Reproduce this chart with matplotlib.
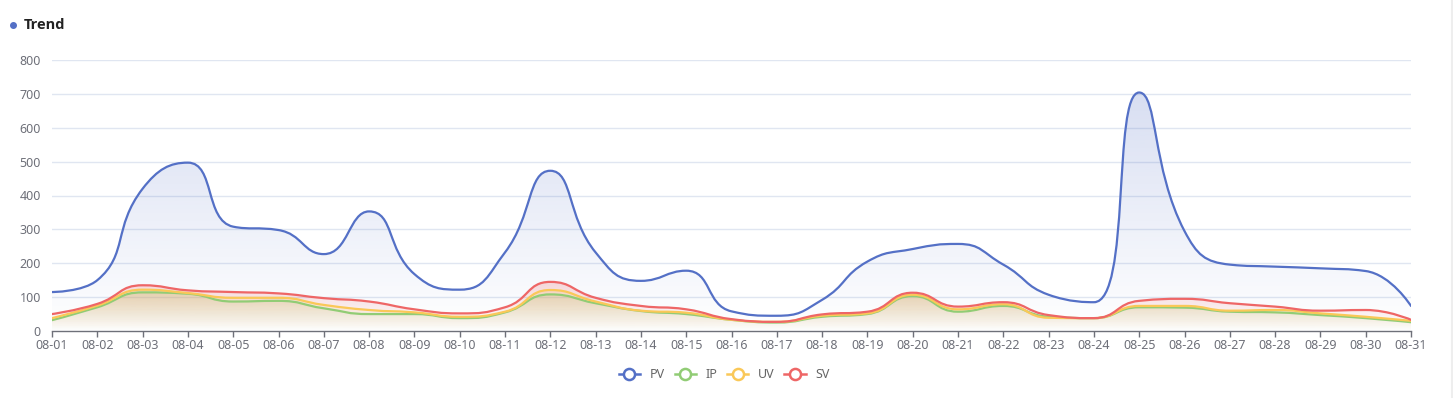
import numpy as np
import matplotlib
matplotlib.use("Agg")
import matplotlib.pyplot as plt
from matplotlib.path import Path
from matplotlib.patches import PathPatch
from matplotlib.lines import Line2D
from matplotlib.colors import to_rgb

plt.rcParams['font.family'] = ['Noto Sans', 'DejaVu Sans']

dates = [f"08-{d:02d}" for d in range(1, 32)]
pv = [115, 150, 420, 497, 308, 298, 227, 353, 168, 122, 232, 473, 232, 148, 178,
      58, 45, 92, 205, 242, 257, 196, 107, 85, 704, 295, 196, 190, 185, 177, 74]
ip = [32, 70, 114, 110, 87, 89, 67, 50, 50, 38, 55, 108, 82, 59, 50,
      33, 25, 42, 50, 103, 57, 74, 42, 38, 70, 69, 57, 55, 47, 38, 26]
uv = [38, 75, 122, 112, 98, 98, 77, 62, 55, 42, 57, 121, 87, 60, 54,
      33, 27, 45, 52, 107, 64, 79, 39, 38, 74, 74, 60, 62, 52, 42, 30]
sv = [50, 80, 135, 120, 115, 111, 97, 87, 64, 52, 70, 145, 98, 74, 64,
      35, 27, 49, 57, 113, 72, 85, 47, 38, 89, 95, 82, 72, 60, 62, 33]

series = [("PV", pv, "#5470c6"), ("IP", ip, "#91cc75"),
          ("UV", uv, "#fac858"), ("SV", sv, "#ee6666")]

W, H = 1453, 398
fig = plt.figure(figsize=(W / 100, H / 100), dpi=100)
x0, x1, yb, yt = 52, 1411, 331, 60
ax = fig.add_axes([x0 / W, 1 - yb / H, (x1 - x0) / W, (yb - yt) / H])
n = len(dates)
ax.set_xlim(0, n - 1)
ax.set_ylim(0, 800)
sx = (x1 - x0) / (n - 1)
sy = (yb - yt) / 800.0


def echarts_smooth(xs, ys, smooth=0.5):
    # ECharts-style bezier smoothing computed in pixel space
    P = np.column_stack([np.asarray(xs, float) * sx, np.asarray(ys, float) * sy])
    verts = [tuple(P[0])]
    codes = [Path.MOVETO]
    cp0 = P[0].copy()
    m = len(P)
    for i in range(1, m):
        p = P[i]; prev = P[i - 1]
        if i == m - 1:
            cp1 = p.copy(); ncp0 = p.copy()
        else:
            nxt = P[i + 1]
            v = nxt - prev
            lp = np.hypot(*(p - prev)); ln = np.hypot(*(nxt - p))
            r = ln / (ln + lp)
            ncp0 = p + v * smooth * r
            ncp0 = np.minimum(ncp0, np.maximum(nxt, p))
            ncp0 = np.maximum(ncp0, np.minimum(nxt, p))
            v = ncp0 - p
            cp1 = p - v * lp / ln
            cp1 = np.minimum(cp1, np.maximum(prev, p))
            cp1 = np.maximum(cp1, np.minimum(prev, p))
            v = p - cp1
            ncp0 = p + v * ln / lp
        verts += [tuple(cp0), tuple(cp1), tuple(p)]
        codes += [Path.CURVE4] * 3
        cp0 = ncp0
    verts = [(a / sx, b / sy) for a, b in verts]
    return verts, codes


# grid
for v in range(100, 900, 100):
    ax.axhline(v, color="#e0e6f1", lw=1, zorder=0)

xs = np.arange(n)
for zi, (name, vals, col) in enumerate(series):
    verts, codes = echarts_smooth(xs, vals)
    # area
    av = verts + [(n - 1, 0), (0, 0), verts[0]]
    ac = codes + [Path.LINETO, Path.LINETO, Path.CLOSEPOLY]
    patch = PathPatch(Path(av, ac), facecolor="none", edgecolor="none")
    ax.add_patch(patch)
    rgb = to_rgb(col)
    grad = np.zeros((256, 1, 4))
    grad[:, 0, :3] = rgb
    grad[:, 0, 3] = np.linspace(0.23, 0.0, 256)
    im = ax.imshow(grad, extent=[0, n - 1, 0, max(vals)], origin="upper",
                   aspect="auto", zorder=1 + zi * 0.1, interpolation="bilinear")
    im.set_clip_path(patch)
    lp = PathPatch(Path(verts, codes), facecolor="none", edgecolor=col,
                   lw=1.6, zorder=3 + zi * 0.1, capstyle="round", joinstyle="round")
    ax.add_patch(lp)

ax.set_xlim(0, n - 1)
ax.set_ylim(0, 800)
ax.set_xticks(xs)
ax.set_xticklabels(dates)
ax.set_yticks(range(0, 900, 100))
for s in ["top", "right", "left"]:
    ax.spines[s].set_visible(False)
ax.spines["bottom"].set_color("#6e7079")
ax.spines["bottom"].set_linewidth(1)
ax.spines["bottom"].set_zorder(5)
ax.tick_params(axis="x", colors="#6e7079", labelsize=9, length=4, width=1, pad=2,
               labelcolor="#6e7079")
ax.tick_params(axis="y", length=0, labelsize=9, pad=8, labelcolor="#6e7079")
ax.set_facecolor("none")

# title
fig.text(24 / W, 1 - 25 / H, "Trend", fontsize=10.5, fontweight="bold",
         family=["Open Sans", "DejaVu Sans"],
         color="#222222", va="center", ha="left")
fig.add_artist(Line2D([13 / W], [1 - 25 / H], marker="o", markersize=4,
                      color="#5470c6", linestyle="none"))

# legend
handles = [Line2D([], [], color=c, lw=1.8, marker="o", markersize=8,
                  markerfacecolor="white", markeredgewidth=1.8, label=nm)
           for nm, _, c in series]
leg = fig.legend(handles=handles, loc="center", bbox_to_anchor=(724 / W, 1 - 375 / H),
                 ncol=4, frameon=False, fontsize=9, handlelength=1.7,
                 handletextpad=0.75, columnspacing=0.8, labelcolor="#666666")

# right border
fig.add_artist(Line2D([1451.5 / W, 1451.5 / W], [0, 1], color="#eeeeee", lw=1.5))

fig.savefig("out.png", dpi=100, facecolor="white")
